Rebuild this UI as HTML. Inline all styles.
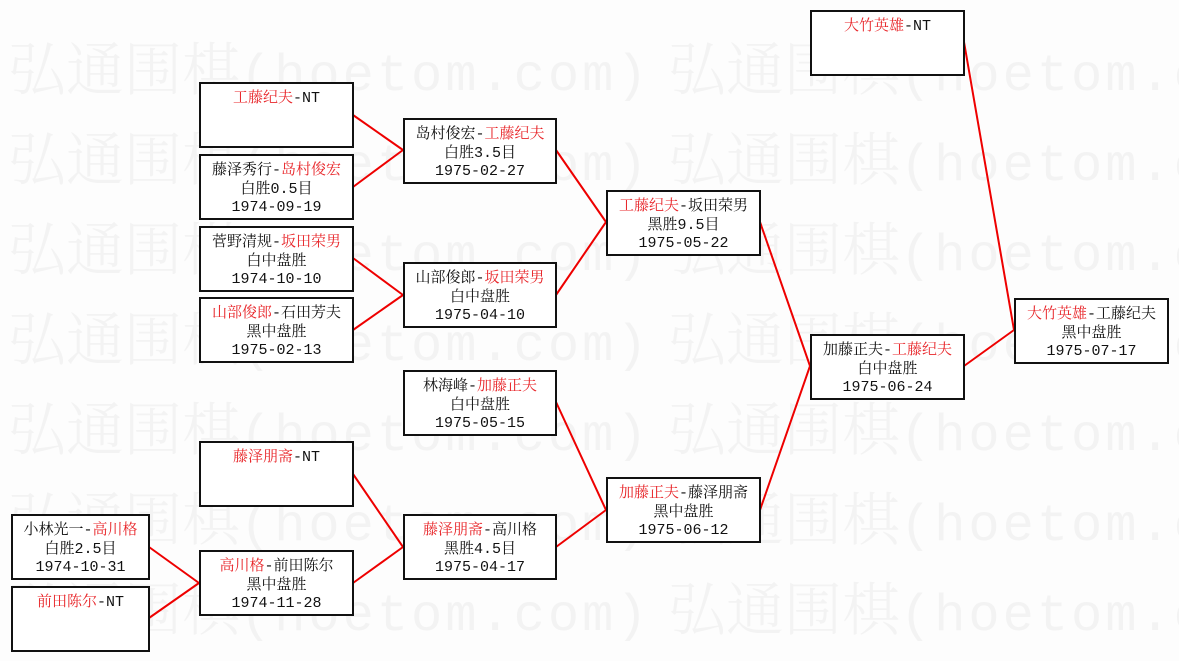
<!DOCTYPE html>
<html><head><meta charset="utf-8"><style>
body{margin:0;width:1179px;height:661px;background:#fdfdfd;position:relative;overflow:hidden;font-family:"Liberation Sans","Noto Sans CJK SC",sans-serif}
.wm{position:absolute;font-family:"Noto Serif CJK SC",serif;font-size:58px;color:#f3f3f3;white-space:nowrap;line-height:60px;font-weight:300}
.wm span{font-family:"Liberation Mono",monospace;font-size:52px;letter-spacing:3px}
.b{position:absolute;box-sizing:border-box;border:2px solid #111;background:#fff;text-align:center;font-size:15px;line-height:18.5px;padding-top:6px;color:#111;font-family:"Liberation Mono","Noto Serif CJK SC",monospace}
.r{color:#e8262a}
svg{position:absolute;left:0;top:0}
</style></head><body>
<div class="wm" style="left:8px;top:35px">弘通围棋<span>(hoetom.com)</span></div><div class="wm" style="left:668px;top:35px">弘通围棋<span>(hoetom.com)</span></div>
<div class="wm" style="left:8px;top:125px">弘通围棋<span>(hoetom.com)</span></div><div class="wm" style="left:668px;top:125px">弘通围棋<span>(hoetom.com)</span></div>
<div class="wm" style="left:8px;top:215px">弘通围棋<span>(hoetom.com)</span></div><div class="wm" style="left:668px;top:215px">弘通围棋<span>(hoetom.com)</span></div>
<div class="wm" style="left:8px;top:305px">弘通围棋<span>(hoetom.com)</span></div><div class="wm" style="left:668px;top:305px">弘通围棋<span>(hoetom.com)</span></div>
<div class="wm" style="left:8px;top:395px">弘通围棋<span>(hoetom.com)</span></div><div class="wm" style="left:668px;top:395px">弘通围棋<span>(hoetom.com)</span></div>
<div class="wm" style="left:8px;top:485px">弘通围棋<span>(hoetom.com)</span></div><div class="wm" style="left:668px;top:485px">弘通围棋<span>(hoetom.com)</span></div>
<div class="wm" style="left:8px;top:575px">弘通围棋<span>(hoetom.com)</span></div><div class="wm" style="left:668px;top:575px">弘通围棋<span>(hoetom.com)</span></div>
<svg width="1179" height="661"><g stroke="#e00" stroke-width="2" fill="none">
<path d="M353 115L403 150M353 187L403 150"/>
<path d="M353 258L403 295M353 330L403 295"/>
<path d="M149 547L199 583M149 618L199 583"/>
<path d="M353 474L403 547M353 583L403 547"/>
<path d="M556 150L606 222M556 295L606 222"/>
<path d="M556 402L606 510M556 547L606 510"/>
<path d="M760 222L810 366M760 510L810 366"/>
<path d="M964 42L1014 330M964 366L1014 330"/>
</g></svg>
<div class="b" style="left:11px;top:514px;width:139px;height:66px">小林光一-<span class="r">高川格</span><br>白胜2.5目<br>1974-10-31</div>
<div class="b" style="left:11px;top:586px;width:139px;height:66px"><span class="r">前田陈尔</span>-NT</div>
<div class="b" style="left:199px;top:82px;width:155px;height:66px"><span class="r">工藤纪夫</span>-NT</div>
<div class="b" style="left:199px;top:154px;width:155px;height:66px">藤泽秀行-<span class="r">岛村俊宏</span><br>白胜0.5目<br>1974-09-19</div>
<div class="b" style="left:199px;top:226px;width:155px;height:66px">菅野清规-<span class="r">坂田荣男</span><br>白中盘胜<br>1974-10-10</div>
<div class="b" style="left:199px;top:297px;width:155px;height:66px"><span class="r">山部俊郎</span>-石田芳夫<br>黑中盘胜<br>1975-02-13</div>
<div class="b" style="left:199px;top:441px;width:155px;height:66px"><span class="r">藤泽朋斋</span>-NT</div>
<div class="b" style="left:199px;top:550px;width:155px;height:66px"><span class="r">高川格</span>-前田陈尔<br>黑中盘胜<br>1974-11-28</div>
<div class="b" style="left:403px;top:118px;width:154px;height:66px">岛村俊宏-<span class="r">工藤纪夫</span><br>白胜3.5目<br>1975-02-27</div>
<div class="b" style="left:403px;top:262px;width:154px;height:66px">山部俊郎-<span class="r">坂田荣男</span><br>白中盘胜<br>1975-04-10</div>
<div class="b" style="left:403px;top:370px;width:154px;height:66px">林海峰-<span class="r">加藤正夫</span><br>白中盘胜<br>1975-05-15</div>
<div class="b" style="left:403px;top:514px;width:154px;height:66px"><span class="r">藤泽朋斋</span>-高川格<br>黑胜4.5目<br>1975-04-17</div>
<div class="b" style="left:606px;top:190px;width:155px;height:66px"><span class="r">工藤纪夫</span>-坂田荣男<br>黑胜9.5目<br>1975-05-22</div>
<div class="b" style="left:606px;top:477px;width:155px;height:66px"><span class="r">加藤正夫</span>-藤泽朋斋<br>黑中盘胜<br>1975-06-12</div>
<div class="b" style="left:810px;top:10px;width:155px;height:66px"><span class="r">大竹英雄</span>-NT</div>
<div class="b" style="left:810px;top:334px;width:155px;height:66px">加藤正夫-<span class="r">工藤纪夫</span><br>白中盘胜<br>1975-06-24</div>
<div class="b" style="left:1014px;top:298px;width:155px;height:66px"><span class="r">大竹英雄</span>-工藤纪夫<br>黑中盘胜<br>1975-07-17</div>
</body></html>
